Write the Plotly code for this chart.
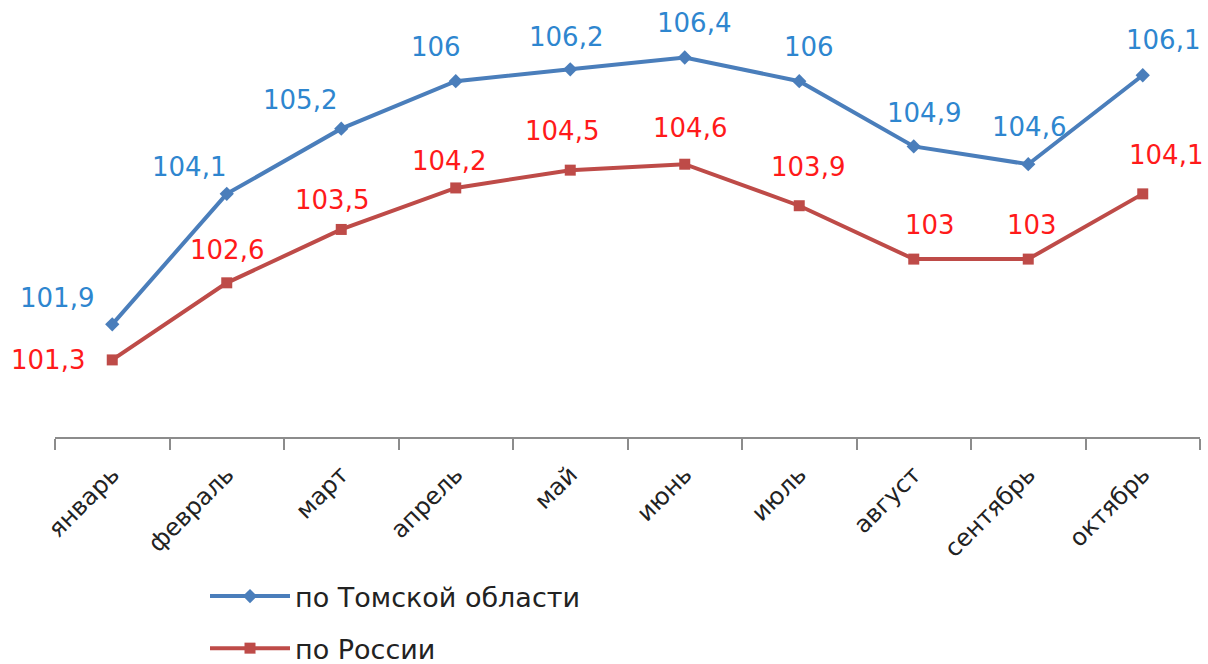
import plotly.graph_objects as go

months = ["январь", "февраль", "март", "апрель", "май", "июнь", "июль", "август", "сентябрь", "октябрь"]
tomsk = [101.9, 104.1, 105.2, 106.0, 106.2, 106.4, 106.0, 104.9, 104.6, 106.1]
russia = [101.3, 102.6, 103.5, 104.2, 104.5, 104.6, 103.9, 103.0, 103.0, 104.1]

name_tomsk = "по Томской области"
name_russia = "по России"

# label offsets in pixels (dx, dy) relative to the point
tomsk_off = [(-55, 26), (-38, 27), (-41, 29), (-20, 34), (-4, 32), (9, 34), (10, 34), (10, 33), (1, 37), (20, 35)]
russia_off = [(-64, 0), (0, 33), (-9, 29), (-7, 27), (-8, 39), (5, 36), (9, 39), (16, 34), (4, 34), (23, 39)]

LINE_T = "#4A7EBB"
LINE_R = "#BE4B48"
LBL_T = "#2E86CF"
LBL_R = "#FF1A1A"
FONT = "DejaVu Sans"

W, H = 1208, 664
PX_L, PX_R = 55, 1200      # plot area left / right (pixels)
PX_T, PX_B = 5, 437        # plot area top / bottom (pixels)

fig = go.Figure()
fig.add_trace(go.Scatter(
    x=months, y=tomsk, name=name_tomsk, mode="lines+markers",
    line=dict(color=LINE_T, width=4),
    marker=dict(symbol="diamond", size=11, color=LINE_T),
    legendgroup="a",
))
fig.add_trace(go.Scatter(
    x=months, y=russia, name=name_russia, mode="lines+markers",
    line=dict(color=LINE_R, width=4),
    marker=dict(symbol="square", size=11, color=LINE_R),
    legendgroup="b",
))

def fmt(v):
    s = ("%.1f" % v).rstrip("0").rstrip(".")
    return s.replace(".", ",")

for i, (m, v) in enumerate(zip(months, tomsk)):
    dx, dy = tomsk_off[i]
    fig.add_annotation(x=m, y=v, text=fmt(v), showarrow=False,
                       xshift=dx, yshift=dy,
                       font=dict(family=FONT, size=26, color=LBL_T))
for i, (m, v) in enumerate(zip(months, russia)):
    dx, dy = russia_off[i]
    fig.add_annotation(x=m, y=v, text=fmt(v), showarrow=False,
                       xshift=dx, yshift=dy,
                       font=dict(family=FONT, size=26, color=LBL_R))

fig.update_layout(
    width=W, height=H,
    margin=dict(l=0, r=0, t=0, b=0, autoexpand=False),
    paper_bgcolor="white", plot_bgcolor="white",
    font=dict(family=FONT, size=21, color="#222222"),
    showlegend=True,
    legend=dict(
        x=205 / W, y=1 - 572 / H, xanchor="left", yanchor="top",
        orientation="v", traceorder="grouped", tracegroupgap=14,
        font=dict(family=FONT, size=27, color="#222222"),
        itemwidth=80, bgcolor="rgba(0,0,0,0)",
    ),
    xaxis=dict(
        type="category", range=[-0.5, 9.5], automargin=False,
        domain=[PX_L / W, PX_R / W],
        showline=True, linecolor="#8C8C8C", linewidth=2,
        ticks="outside", ticklen=11, tickcolor="#8C8C8C", tickwidth=2,
        tickson="boundaries", tickangle=-45, ticklabelstandoff=12,
        showgrid=False, zeroline=False,
        tickfont=dict(family=FONT, size=24, color="#222222"),
    ),
    yaxis=dict(
        range=[100, 107.285], visible=False, showgrid=False, zeroline=False,
        automargin=False, domain=[1 - PX_B / H, 1 - PX_T / H],
    ),
)

fig.write_html(
    "out.html",
    config={"displayModeBar": False},
    post_script="document.body.style.margin='0';document.body.style.overflow='hidden';",
)
